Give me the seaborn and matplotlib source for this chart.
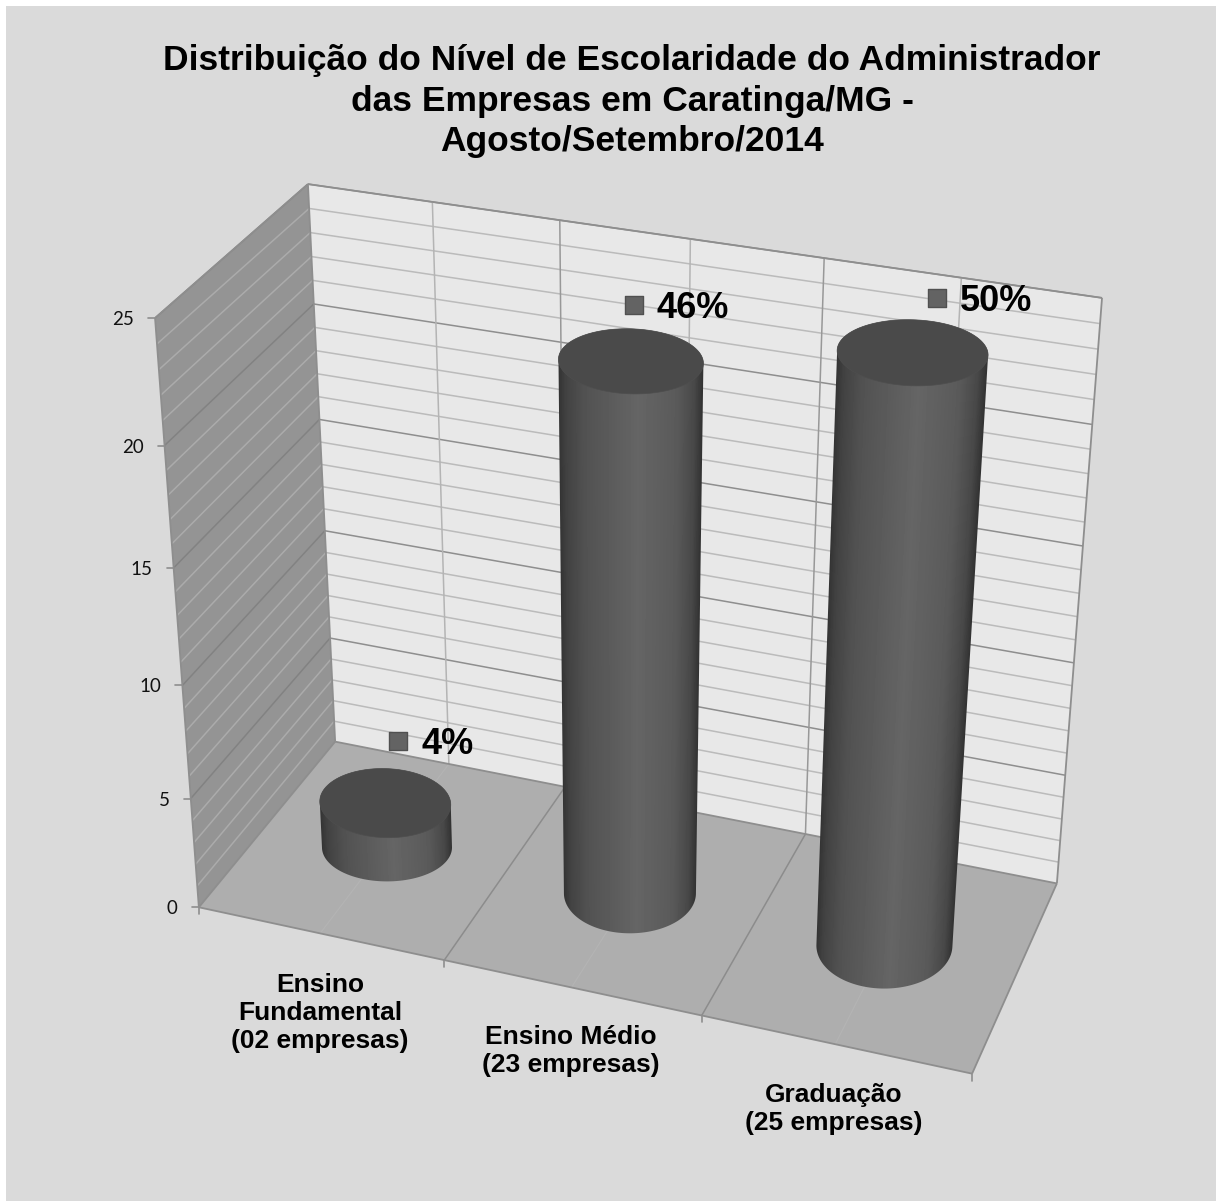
import numpy as np
import pandas as pd
import matplotlib
matplotlib.use("Agg")
import matplotlib.pyplot as plt
from matplotlib.patches import Polygon
import seaborn as sns

# ---- data ----
categories = ["Ensino\nFundamental\n(02 empresas)", "Ensino Médio\n(23 empresas)", "Graduação\n(25 empresas)"]
values = [2, 23, 25]
percent_labels = ["4%", "46%", "50%"]
y_ticks = [0, 5, 10, 15, 20, 25]
title = "Distribuição do Nível de Escolaridade do Administrador\ndas Empresas em Caratinga/MG -\nAgosto/Setembro/2014"

sns.set_theme(style="white")
plt.rcParams['font.family'] = ['Liberation Sans', 'DejaVu Sans']

W, H = 1216, 1201
fig = plt.figure(figsize=(W / 100, H / 100), dpi=100, facecolor="white")
ax = fig.add_axes([0, 0, 1, 1])
ax.set_axis_off()

# ---- 3D scale: (category position, value, depth) -> picture, fitted from the box corners ----
box = [((0, 0, 0), (199, 907)), ((3, 0, 0), (972, 1074)), ((0, 25, 0), (155, 318)),
       ((0, 0, 1), (335, 742)), ((3, 0, 1), (1057, 883)), ((0, 25, 1), (308, 184)),
       ((3, 25, 1), (1102, 298))]
rows = []
for (u, v, d), (x, y) in box:
    rows.append([u, v, d, 1, 0, 0, 0, 0, -x * u, -x * v, -x * d, -x])
    rows.append([0, 0, 0, 0, u, v, d, 1, -y * u, -y * v, -y * d, -y])
M = np.linalg.svd(np.array(rows, float))[2][-1].reshape(3, 4)


def proj(u, v, d):
    u, v, d = np.broadcast_arrays(np.asarray(u, float), np.asarray(v, float), np.asarray(d, float))
    p = M @ np.vstack([u.ravel(), v.ravel(), d.ravel(), np.ones(u.size)])
    return p[0] / p[2], p[1] / p[2]


def gray(n):
    return "#%02x%02x%02x" % (n, n, n)


def seg(a, b, color, lw, z=2):
    x, y = proj(*zip(a, b))
    ax.plot(x, y, color=color, lw=lw, zorder=z, solid_capstyle="butt")


def face(corners, color, z=1):
    x, y = proj(*zip(*corners))
    ax.add_patch(Polygon(np.c_[x, y], closed=True, fc=color, ec="none", zorder=z))


# background
ax.add_patch(plt.Rectangle((6, 6), W, H, fc=gray(0xda), ec="none", zorder=0))

vmax = 25
n = len(categories)
face([(0, 0, 1), (n, 0, 1), (n, vmax, 1), (0, vmax, 1)], gray(0xe8))
face([(0, 0, 0), (0, 0, 1), (0, vmax, 1), (0, vmax, 0)], gray(0x94))
face([(0, 0, 0), (n, 0, 0), (n, 0, 1), (0, 0, 1)], gray(0xae))

# value grid
for v in range(1, vmax + 1):
    major = v % 5 == 0
    seg((0, v, 1), (n, v, 1), gray(0x8e) if major else gray(0xbb), 1.1)
    seg((0, v, 0), (0, v, 1), gray(0x82) if major else gray(0xab), 1.1)
# category grid
for i in range(1, n):
    seg((i, 0, 1), (i, vmax, 1), gray(0x98), 1.1)
    seg((i, 0, 0), (i, 0, 1), gray(0x8c), 1.1)
for i in range(n):
    seg((i + .5, 0, 1), (i + .5, vmax, 1), gray(0xb4), 1.1)
    seg((i + .5, 0, 0), (i + .5, 0, 1), gray(0xb4), 0.8)
# box outline
for a, b in [((0, 0, 0), (0, vmax, 0)), ((0, vmax, 0), (0, vmax, 1)), ((0, 0, 1), (0, vmax, 1)),
             ((0, vmax, 1), (n, vmax, 1)), ((n, 0, 1), (n, vmax, 1)), ((0, 0, 0), (n, 0, 0)),
             ((n, 0, 0), (n, 0, 1)), ((0, 0, 0), (0, 0, 1)), ((0, 0, 1), (n, 0, 1))]:
    seg(a, b, gray(0x8e), 1.3, z=2.5)

# ticks
for t in y_ticks:
    x, y = proj(0, t, 0)
    ax.plot([x[0] - 7, x[0]], [y[0], y[0]], color=gray(0x8e), lw=1.2, zorder=2)
    ax.text(x[0] - 21, y[0] + 1.5, str(t), ha="right", va="center", fontsize=13.5, family="Lato", color="#111111")
for i in range(n + 1):
    x, y = proj(i, 0, 0)
    ax.plot([x[0], x[0]], [y[0], y[0] + 7], color=gray(0x8e), lw=1.2, zorder=2)

# cylinders: screen-aligned ellipses around the projected axis (layout sizes in pixels)
theta = np.linspace(0, 2 * np.pi, 181)
top_rx = [65.5, 72.5, 75.5]
top_ry = [34.5, 32.5, 33]
top_dy = [0, 2, 2.5]
base_rx = [65, 66, 68]
base_ry = [34, 40, 43]
base_dy = [2, -2, -2]
tilt = np.deg2rad(2)
stops_t = [0, .05, .18, .55, .82, .94, 1]
stops_g = [0x34, 0x42, 0x52, 0x65, 0x5a, 0x48, 0x32]


def hull(pts):
    pts = sorted(set(map(tuple, np.round(pts, 3))))
    def half(seq):
        out = []
        for p in seq:
            while len(out) > 1 and (out[-1][0] - out[-2][0]) * (p[1] - out[-2][1]) - (out[-1][1] - out[-2][1]) * (p[0] - out[-2][0]) <= 0:
                out.pop()
            out.append(p)
        return out[:-1]
    return np.array(half(pts) + half(pts[::-1]))


tops = []
for i, val in enumerate(values):
    z = 3 + i
    cx, cy = proj(i + .5, val, .5)
    bcx, bcy = proj(i + .5, 0, .5)
    tops.append((cx[0], cy[0]))
    ex, ey = top_rx[i] * np.cos(theta), top_ry[i] * np.sin(theta)
    tx = cx[0] + ex * np.cos(tilt) - ey * np.sin(tilt)
    ty = cy[0] + top_dy[i] + ex * np.sin(tilt) + ey * np.cos(tilt)
    bx = bcx[0] + base_rx[i] * np.cos(theta)
    by = bcy[0] + base_dy[i] + base_ry[i] * np.sin(theta)
    poly = hull(np.r_[np.c_[bx, by], np.c_[tx, ty]])
    x0, x1, y0, y1 = int(poly[:, 0].min()) - 2, int(poly[:, 0].max()) + 3, int(poly[:, 1].min()) - 2, int(poly[:, 1].max()) + 3
    gx, gy = np.meshgrid(np.arange(x0, x1) + .5, np.arange(y0, y1) + .5)
    frac = (gy - ty.mean()) / (by.mean() - ty.mean())
    xl = tx.min() + frac * (bx.min() - tx.min())
    xr = tx.max() + frac * (bx.max() - tx.max())
    shade = np.interp((gx - xl) / (xr - xl), stops_t, stops_g)
    im = ax.imshow(shade, extent=(x0, x1, y1, y0), cmap="gray", vmin=0, vmax=255, aspect="auto",
                   interpolation="bilinear", zorder=z)
    clip = Polygon(poly, closed=True, transform=ax.transData)
    im.set_clip_path(clip)
    ax.add_patch(Polygon(np.c_[tx, ty], closed=True, fc=gray(0x4a), ec=gray(0x4e), lw=.5, zorder=z + .1))

ax.set_xlim(0, W)
ax.set_ylim(H, 0)

# data labels
label_offset_x = [13, 3, 24]
label_offset_y = [-62, -54, -52]
df = pd.DataFrame({
    "x": [tops[i][0] + label_offset_x[i] for i in range(n)],
    "y": [tops[i][1] + label_offset_y[i] for i in range(n)],
})
sns.scatterplot(data=df, x="x", y="y", marker="s", s=185, color=gray(0x63), edgecolor=gray(0x50),
                linewidth=1, ax=ax, zorder=10, legend=False)
for i in range(n):
    ax.text(df.x[i] + 23, df.y[i] + 3.5, percent_labels[i], fontsize=26, fontweight="bold", ha="left",
            va="center", color="black", zorder=11)
ax.set_xlabel("")
ax.set_ylabel("")

# category labels
cat_x = [320, 571, 834]
cat_y = [1013, 1051, 1109]
for lab, x, y in zip(categories, cat_x, cat_y):
    ax.text(x, y, lab, ha="center", va="center", fontsize=19, fontweight="bold", color="black",
            linespacing=1.2, zorder=11)

ax.text(632, 101, title, ha="center", va="center", fontsize=25.5, fontweight="bold", color="black",
        linespacing=1.29, zorder=11)

fig.savefig("out.png", dpi=100, facecolor="white")
